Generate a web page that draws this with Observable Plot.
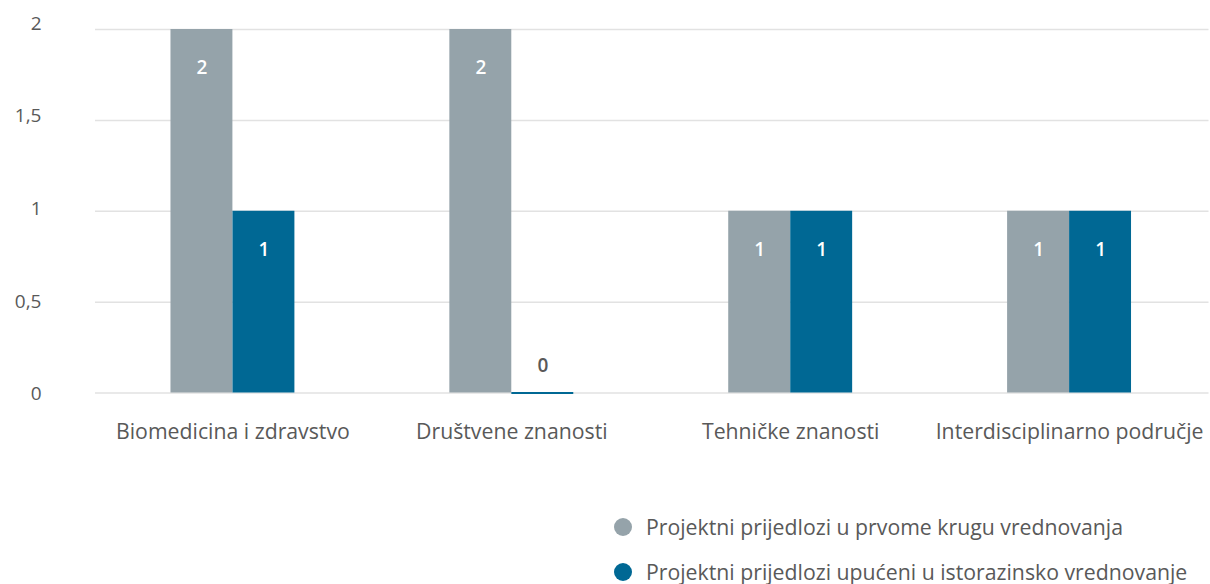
<!DOCTYPE html>
<html>
<head>
<meta charset="utf-8">
<script src="https://cdn.jsdelivr.net/npm/d3@7"></script>
<script src="https://cdn.jsdelivr.net/npm/@observablehq/plot@0.6"></script>
<style>
  html, body { margin: 0; padding: 0; background: #fff; }
  body { position: relative; width: 1210px; height: 584px; font-family: "Open Sans", sans-serif; color: #595959; }
  #legend { position: absolute; left: 614px; top: 504px; font-size: 21.25px; }
  .row { height: 45px; line-height: 45px; display: flex; align-items: center; }
  .dot { width: 18px; height: 18px; border-radius: 50%; margin-right: 14px; }
</style>
</head>
<body>
<div id="chart"></div>
<div id="legend"></div>
<script>
const categories = ["Biomedicina i zdravstvo", "Društvene znanosti", "Tehničke znanosti", "Interdisciplinarno područje"];
const seriesNames = ["Projektni prijedlozi u prvome krugu vrednovanja", "Projektni prijedlozi upućeni u istorazinsko vrednovanje"];
const firstRound = [2, 2, 1, 1];
const peerReview = [1, 0, 1, 1];
const yTicks = [0, 0.5, 1, 1.5, 2];
const colors = ["#95a3aa", "#006894"];

const rowsA = categories.map((c, i) => ({cat: c, value: firstRound[i]}));
const rowsB = categories.map((c, i) => ({cat: c, value: peerReview[i]}));
const half = 62;
const fmt = d => String(d).replace(".", ",");
// small vertical nudges of the tick labels, as in the reference
const labelNudge = [1, 0, -2, -4, -5.5];

const chart = Plot.plot({
  width: 1210,
  height: 470,
  marginLeft: 93,
  marginRight: 1.5,
  marginTop: 29,
  marginBottom: 77.5,
  style: {fontFamily: "Open Sans, sans-serif", fontSize: "19px", color: "#595959", background: "#fff"},
  x: {domain: categories, paddingInner: 0.5556, paddingOuter: 0.2778, round: false, label: null},
  y: {domain: [0, 2], label: null},
  marks: [
    Plot.ruleY(yTicks, {stroke: "#e2e2e2", strokeWidth: 1.5, insetLeft: 2}),
    ...yTicks.map((t, i) => Plot.axisY({ticks: [t], tickFormat: fmt, tickSize: 0, tickPadding: 52, label: null, fontSize: 19, dy: labelNudge[i]})),
    Plot.axisX({tickSize: 0, tickPadding: 31, label: null, fontSize: 21.25}),
    Plot.barY(rowsA, {x: "cat", y: "value", fill: colors[0], insetRight: half, insetLeft: 0}),
    Plot.barY(rowsB, {x: "cat", y: "value", fill: colors[1], insetLeft: half, insetRight: 0}),
    Plot.tickY(rowsB.filter(d => d.value === 0), {x: "cat", y: "value", stroke: colors[1], strokeWidth: 2, insetLeft: half, insetRight: 0}),
    Plot.text(rowsA.filter(d => d.value > 0), {x: "cat", y: "value", text: d => fmt(d.value), dx: -half / 2, dy: 38.5, fill: "#fff", fontWeight: 600, fontSize: 19}),
    Plot.text(rowsB.filter(d => d.value > 0), {x: "cat", y: "value", text: d => fmt(d.value), dx: half / 2, dy: 38.5, fill: "#fff", fontWeight: 600, fontSize: 19}),
    Plot.text(rowsB.filter(d => d.value === 0), {x: "cat", y: "value", text: d => fmt(d.value), dx: half / 2, dy: -27, fill: "#595959", fontWeight: 600, fontSize: 19})
  ]
});
document.getElementById("chart").appendChild(chart);

const legend = document.getElementById("legend");
seriesNames.forEach((name, i) => {
  const row = document.createElement("div");
  row.className = "row";
  const dot = document.createElement("span");
  dot.className = "dot";
  dot.style.background = colors[i];
  const label = document.createElement("span");
  label.textContent = name;
  row.appendChild(dot);
  row.appendChild(label);
  legend.appendChild(row);
});
</script>
</body>
</html>
